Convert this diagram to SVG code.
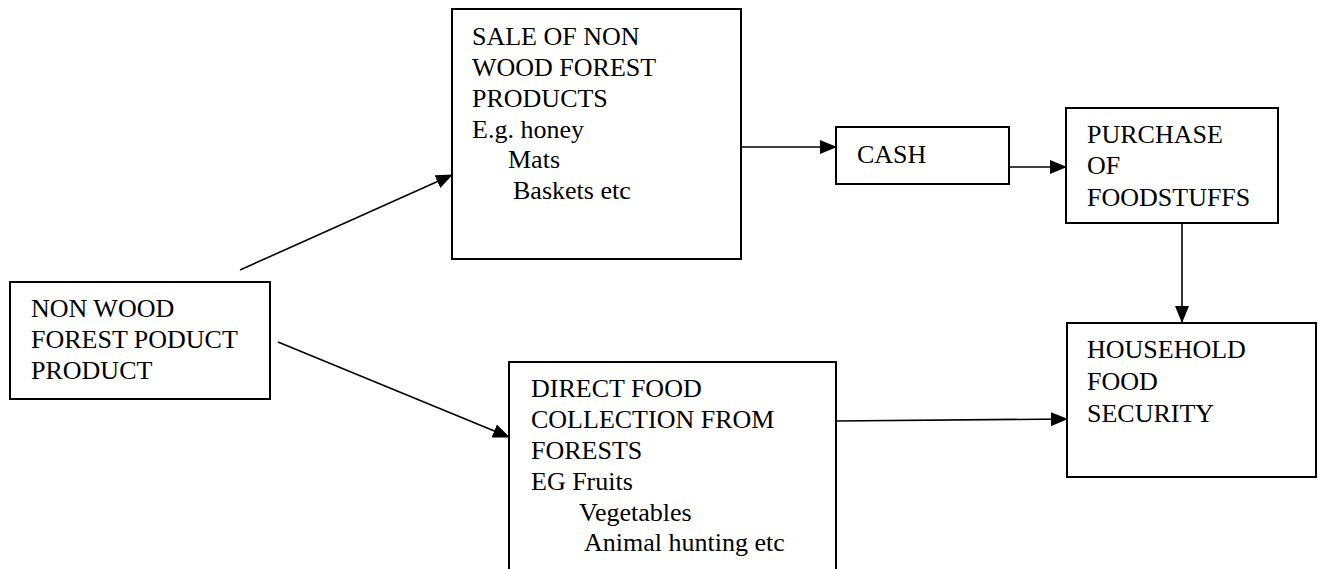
<svg xmlns="http://www.w3.org/2000/svg" width="1321" height="569" viewBox="0 0 1321 569">
<style>
.box{fill:#fff;stroke:#000;stroke-width:2}
.t{font-family:'Liberation Serif','Times New Roman',serif;font-size:26px;fill:#000}
.c{stroke:#000;stroke-width:1.6;fill:none;marker-end:url(#ah)}
</style>
<defs>
<marker id="ah" markerWidth="17" markerHeight="14" refX="16" refY="7" orient="auto" markerUnits="userSpaceOnUse">
<path d="M0,0 L17,7 L0,14 Z" fill="#000"/>
</marker>
</defs>
<rect width="1321" height="569" fill="#fff"/>
<g id="connectors">
<line class="c" x1="240" y1="270" x2="452" y2="175"/>
<line class="c" x1="278" y1="342" x2="509" y2="437"/>
<line class="c" x1="741" y1="147" x2="836" y2="147"/>
<line class="c" x1="1009" y1="167" x2="1066" y2="167"/>
<line class="c" x1="1182" y1="223" x2="1182" y2="322"/>
<line class="c" x1="836" y1="421" x2="1067" y2="419"/>
</g>
<g id="node-nwfp">
<rect class="box" x="10" y="282" width="260" height="117"/>
<text class="t" x="31" y="317">NON WOOD</text>
<text class="t" x="31" y="348">FOREST PODUCT</text>
<text class="t" x="31" y="379">PRODUCT</text>
</g>
<g id="node-sale">
<rect class="box" x="452" y="9" width="289" height="250"/>
<text class="t" x="472" y="45">SALE OF NON</text>
<text class="t" x="472" y="76">WOOD FOREST</text>
<text class="t" x="472" y="107">PRODUCTS</text>
<text class="t" x="472" y="138">E.g. honey</text>
<text class="t" x="508" y="168">Mats</text>
<text class="t" x="513" y="199">Baskets etc</text>
</g>
<g id="node-cash">
<rect class="box" x="836" y="127" width="173" height="57"/>
<text class="t" x="857" y="163">CASH</text>
</g>
<g id="node-purchase">
<rect class="box" x="1066" y="108" width="212" height="115"/>
<text class="t" x="1087" y="143">PURCHASE</text>
<text class="t" x="1087" y="174">OF</text>
<text class="t" x="1087" y="206">FOODSTUFFS</text>
</g>
<g id="node-household">
<rect class="box" x="1067" y="323" width="249" height="154"/>
<text class="t" x="1087" y="358">HOUSEHOLD</text>
<text class="t" x="1087" y="390">FOOD</text>
<text class="t" x="1087" y="422">SECURITY</text>
</g>
<g id="node-direct">
<rect class="box" x="509" y="362" width="327" height="230"/>
<text class="t" x="531" y="397">DIRECT FOOD</text>
<text class="t" x="531" y="428">COLLECTION FROM</text>
<text class="t" x="531" y="459">FORESTS</text>
<text class="t" x="531" y="490">EG Fruits</text>
<text class="t" x="579" y="521">Vegetables</text>
<text class="t" x="584" y="551">Animal hunting etc</text>
</g>
</svg>
